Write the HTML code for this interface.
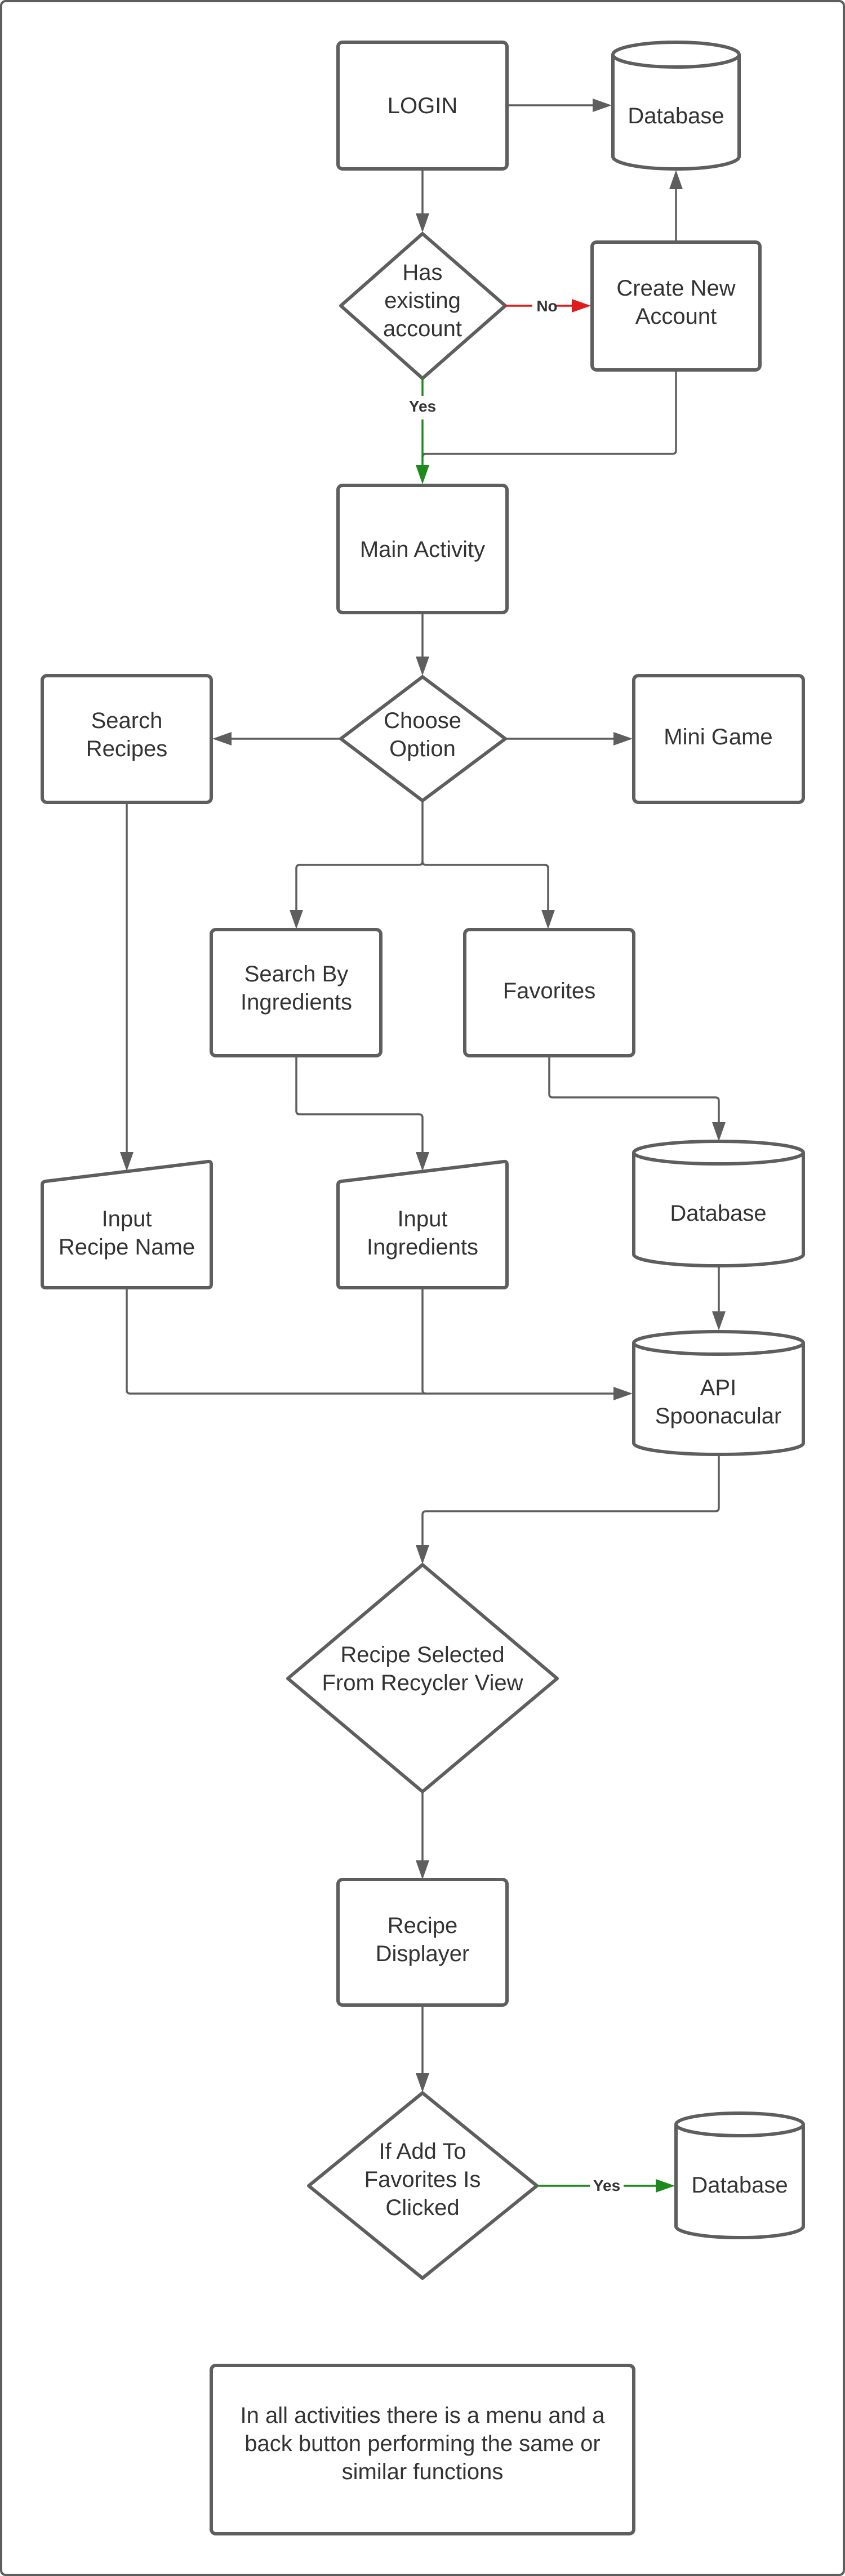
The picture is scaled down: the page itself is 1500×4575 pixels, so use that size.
<!DOCTYPE html>
<html><head><meta charset="utf-8"><style>
html,body{margin:0;padding:0;background:#fff;}
svg{display:block;}
text{font-family:"Liberation Sans",sans-serif;font-size:40px;fill:#333;text-anchor:middle;}
.s{fill:#fff;stroke:#5e5e5e;stroke-width:6;stroke-linejoin:round;}
.c{fill:none;stroke:#5e5e5e;stroke-width:3.5;stroke-linejoin:round;}
</style></head><body>
<svg width="1500" height="4575" viewBox="0 0 1500 4575" xmlns="http://www.w3.org/2000/svg">
<rect x="2" y="2" width="1496" height="4571" rx="8" fill="#fff" stroke="#5e5e5e" stroke-width="4"/>

<rect class="s" x="600" y="75" width="300" height="225" rx="8"/>
<text x="750" y="201">LOGIN</text>
<path class="s" d="M1088,97 A112,22 0 0 1 1312,97 L1312,278 A112,22 0 0 1 1088,278 Z"/>
<path class="s" d="M1088,97 A112,22 0 0 0 1312,97" fill="none"/>
<text x="1200" y="219">Database</text>
<line class="c" x1="900" y1="187" x2="1058" y2="187"/>
<polygon points="1086,187 1052,175 1052,199" fill="#5e5e5e"/>

<line class="c" x1="750" y1="300" x2="750" y2="385"/>
<polygon points="750,413 738,379 762,379" fill="#5e5e5e"/>
<polygon class="s" points="750,415 897,543 750,672 605,543"/>
<text x="750" y="497">Has</text><text x="750" y="547">existing</text><text x="750" y="597">account</text>
<line x1="897" y1="543" x2="1020" y2="543" stroke="#e01b1b" stroke-width="3.5"/>
<polygon points="1049,543 1015,531 1015,555" fill="#e01b1b"/>
<rect x="945" y="530" width="40" height="26" fill="#fff"/>
<text x="971" y="553" style="font-size:28px;font-weight:bold;">No</text>
<rect class="s" x="1051" y="430" width="298" height="227" rx="8"/>
<text x="1200" y="525">Create New</text><text x="1200" y="575">Account</text>
<line class="c" x1="1200" y1="430" x2="1200" y2="332"/>
<polygon points="1200,302 1188,336 1212,336" fill="#5e5e5e"/>
<path class="c" d="M1200,657 L1200,800 Q1200,806 1194,806 L756,806 Q750,806 750,812"/>
<line x1="750" y1="672" x2="750" y2="830" stroke="#1e8a1e" stroke-width="3.5"/>
<polygon points="750,860 738,826 762,826" fill="#1e8a1e"/>
<rect x="715" y="703" width="70" height="42" fill="#fff"/>
<text x="750" y="731" style="font-size:28px;font-weight:bold;">Yes</text>
<rect class="s" x="600" y="862" width="300" height="226" rx="8"/>
<text x="750" y="989">Main Activity</text>

<line class="c" x1="750" y1="1088" x2="750" y2="1172"/>
<polygon points="750,1200 738,1166 762,1166" fill="#5e5e5e"/>
<polygon class="s" points="750,1202 897,1312 750,1422 605,1312"/>
<text x="750" y="1293">Choose</text><text x="750" y="1343">Option</text>
<line class="c" x1="605" y1="1312" x2="405" y2="1312"/>
<polygon points="377,1312 411,1300 411,1324" fill="#5e5e5e"/>
<line class="c" x1="897" y1="1312" x2="1095" y2="1312"/>
<polygon points="1123,1312 1089,1300 1089,1324" fill="#5e5e5e"/>
<rect class="s" x="75" y="1200" width="300" height="225" rx="8"/>
<text x="225" y="1293">Search</text><text x="225" y="1343">Recipes</text>
<rect class="s" x="1125" y="1200" width="301" height="225" rx="8"/>
<text x="1275" y="1322">Mini Game</text>
<path class="c" d="M750,1422 L750,1530 Q750,1536 744,1536 L532,1536 Q526,1536 526,1542 L526,1622"/>
<polygon points="526,1650 514,1616 538,1616" fill="#5e5e5e"/>
<path class="c" d="M750,1530 Q750,1536 756,1536 L967,1536 Q973,1536 973,1542 L973,1622"/>
<polygon points="973,1650 961,1616 985,1616" fill="#5e5e5e"/>
<rect class="s" x="375" y="1651" width="301" height="224" rx="8"/>
<text x="526" y="1743">Search By</text><text x="526" y="1793">Ingredients</text>
<rect class="s" x="825" y="1651" width="300" height="224" rx="8"/>
<text x="975" y="1773">Favorites</text>
<path class="c" d="M526,1875 L526,1973 Q526,1979 532,1979 L744,1979 Q750,1979 750,1985 L750,2052"/>
<polygon points="750,2080 738,2046 762,2046" fill="#5e5e5e"/>
<path class="c" d="M975,1875 L975,1943 Q975,1949 981,1949 L1270,1949 Q1276,1949 1276,1955 L1276,1999"/>
<polygon points="1276,2027 1264,1993 1288,1993" fill="#5e5e5e"/>
<line class="c" x1="225" y1="1425" x2="225" y2="2052"/>
<polygon points="225,2080 213,2046 237,2046" fill="#5e5e5e"/>
<path class="s" d="M81,2098 L369,2063 Q375,2062 375,2068 L375,2281 Q375,2287 369,2287 L81,2287 Q75,2287 75,2281 L75,2104 Q75,2099 81,2098 Z"/>
<text x="225" y="2178">Input</text><text x="225" y="2228">Recipe Name</text>
<path class="s" d="M606,2098 L894,2063 Q900,2062 900,2068 L900,2281 Q900,2287 894,2287 L606,2287 Q600,2287 600,2281 L600,2104 Q600,2099 606,2098 Z"/>
<text x="750" y="2178">Input</text><text x="750" y="2228">Ingredients</text>
<path class="s" d="M1125,2047 A150,20 0 0 1 1426,2047 L1426,2228 A150,20 0 0 1 1125,2228 Z"/>
<path class="s" d="M1125,2047 A150,20 0 0 0 1426,2047" fill="none"/>
<text x="1275" y="2168">Database</text>
<line class="c" x1="1276" y1="2248" x2="1276" y2="2335"/>
<polygon points="1276,2363 1264,2329 1288,2329" fill="#5e5e5e"/>
<path class="s" d="M1125,2385 A150,20 0 0 1 1426,2385 L1426,2563 A150,20 0 0 1 1125,2563 Z"/>
<path class="s" d="M1125,2385 A150,20 0 0 0 1426,2385" fill="none"/>
<text x="1275" y="2478">API</text><text x="1275" y="2528">Spoonacular</text>
<path class="c" d="M225,2287 L225,2469 Q225,2475 231,2475 L1095,2475"/>
<path class="c" d="M750,2287 L750,2469 Q750,2475 756,2475"/>
<polygon points="1123,2475 1089,2463 1089,2487" fill="#5e5e5e"/>
<path class="c" d="M1276,2583 L1276,2678 Q1276,2684 1270,2684 L756,2684 Q750,2684 750,2690 L750,2750"/>
<polygon points="750,2778 738,2744 762,2744" fill="#5e5e5e"/>
<polygon class="s" points="750,2779 989,2981 750,3182 511,2981"/>
<text x="750" y="2952">Recipe Selected</text><text x="750" y="3002">From Recycler View</text>
<line class="c" x1="750" y1="3182" x2="750" y2="3310"/>
<polygon points="750,3338 738,3304 762,3304" fill="#5e5e5e"/>
<rect class="s" x="600" y="3338" width="300" height="223" rx="8"/>
<text x="750" y="3433">Recipe</text><text x="750" y="3483">Displayer</text>
<line class="c" x1="750" y1="3561" x2="750" y2="3688"/>
<polygon points="750,3716 738,3682 762,3682" fill="#5e5e5e"/>
<polygon class="s" points="750,3717 953,3882 750,4046 548,3882"/>
<text x="750" y="3834">If Add To</text><text x="750" y="3884">Favorites Is</text><text x="750" y="3934">Clicked</text>
<line x1="953" y1="3882" x2="1170" y2="3882" stroke="#1e8a1e" stroke-width="3.5"/>
<polygon points="1198,3882 1164,3870 1164,3894" fill="#1e8a1e"/>
<rect x="1047" y="3866" width="60" height="30" fill="#fff"/>
<text x="1077" y="3891" style="font-size:28px;font-weight:bold;">Yes</text>
<path class="s" d="M1200,3773 A113,20 0 0 1 1426,3773 L1426,3954 A113,20 0 0 1 1200,3954 Z"/>
<path class="s" d="M1200,3773 A113,20 0 0 0 1426,3773" fill="none"/>
<text x="1313" y="3894">Database</text>
<rect class="s" x="375" y="4201" width="750" height="299" rx="8"/>
<text x="750" y="4303">In all activities there is a menu and a</text>
<text x="750" y="4353">back button performing the same or</text>
<text x="750" y="4403">similar functions</text>
</svg>
</body></html>
